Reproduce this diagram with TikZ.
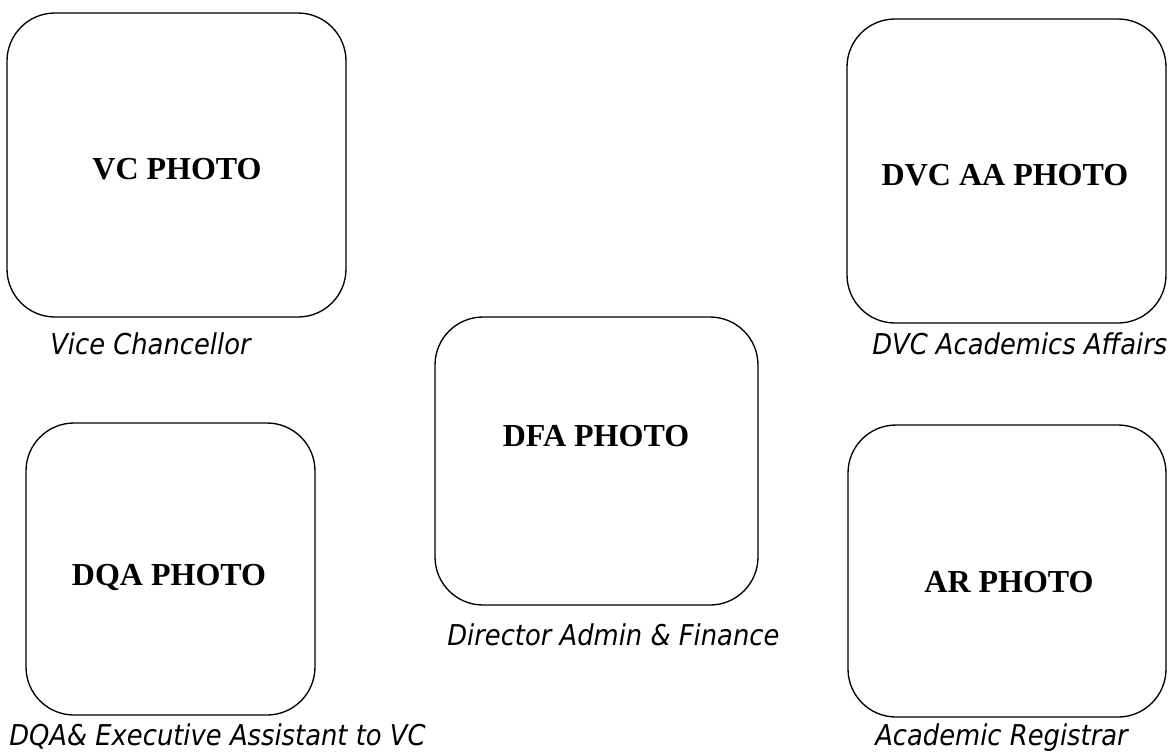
\documentclass[tikz,border=0pt]{standalone}
\usepackage{fontspec}
\setmainfont{Liberation Serif}
\newfontfamily\lblfont[FakeStretch=0.9]{DejaVu Sans}
\usetikzlibrary{fit}
\tikzset{
  photo/.style={draw,line width=1pt,rounded corners=36pt,inner sep=0pt},
  title/.style={font=\fontsize{24}{28}\selectfont\bfseries,inner sep=0pt},
  lbl/.style={font=\lblfont\itshape\fontsize{21.5}{25}\selectfont,inner sep=0pt,anchor=base west}
}
\begin{document}
\begin{tikzpicture}[x=0.75pt,y=-0.75pt]
    \useasboundingbox (0,0) rectangle (1168,754);
    %
    \node[photo,fit={(7,13) (346,317)}] (vc) {};
    \node[title] (vct) at (177,169) {VC PHOTO};
    \node[lbl] (vcl) at (50,354) {Vice Chancellor};
    %
    \node[photo,fit={(847,19) (1166,323)}] (dvc) {};
    \node[title] (dvct) at (1005,175) {DVC AA PHOTO};
    \node[lbl] (dvcl) at (872,354) {DVC Academics Affairs};
    %
    \node[photo,fit={(435,317) (758,605)}] (dfa) {};
    \node[title] (dfat) at (596,436) {DFA PHOTO};
    \node[lbl] (dfal) at (447,645) {Director Admin \& Finance};
    %
    \node[photo,fit={(26,423) (315,715)}] (dqa) {};
    \node[title] (dqat) at (169,577) {DQA PHOTO};
    \node[lbl] (dqal) at (9,745) {DQA\& Executive Assistant to VC};
    %
    \node[photo,fit={(848,425) (1166,717)}] (ar) {};
    \node[title] (art) at (1009,582) {AR PHOTO};
    \node[lbl] (arl) at (875,745) {Academic Registrar};
    %
\end{tikzpicture}
\end{document}
